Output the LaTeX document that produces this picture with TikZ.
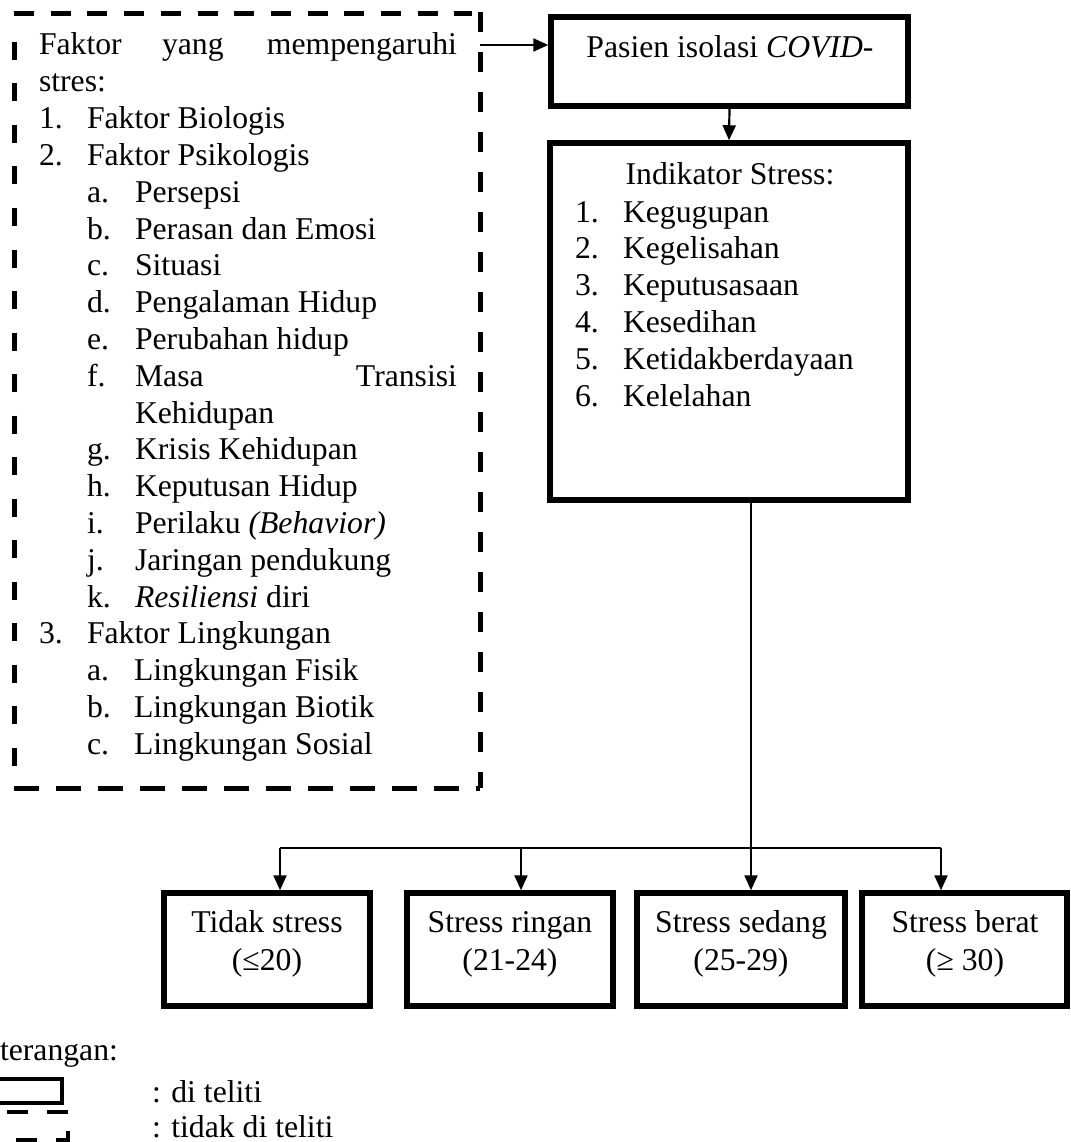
\documentclass[tikz,border=0pt]{standalone}
\usepackage{fontspec}
\setmainfont{Liberation Serif}
\usetikzlibrary{arrows.meta}
\newcommand{\mainsz}{\fontsize{31.7}{37}\selectfont}
\begin{document}
\begin{tikzpicture}[x=1pt,y=-1pt,
  txt/.style={anchor=base west,inner sep=0pt,outer sep=0pt,font=\mainsz},
  txtc/.style={anchor=base,inner sep=0pt,outer sep=0pt,font=\mainsz},
  txte/.style={anchor=base east,inner sep=0pt,outer sep=0pt,font=\mainsz},
  solidbox/.style={draw,line width=5.5pt,rectangle,inner sep=0pt},
  conn/.style={line width=2.2pt,-{Triangle[length=15pt,width=13pt]}},
  plainline/.style={line width=2.2pt},
  dashside/.style={line width=5pt}
]
\clip (0,0) rectangle (1070,1142);
\useasboundingbox (0,0) rectangle (1070,1142);

% ---------- dashed factor box ----------
\node[draw=none,inner sep=0pt,outer sep=0pt,anchor=north west,
      minimum width=466pt,minimum height=774pt] (faktor) at (14,14) {};
\draw[dashside,dash pattern=on 20pt off 16.7pt] (faktor.north west) -- ([xshift=-8pt]faktor.north east);
\draw[dashside,dash pattern=on 20pt off 20pt] ([yshift=2pt]faktor.north east) -- (faktor.south east);
\draw[dashside,dash pattern=on 25pt off 17pt] (faktor.south west) -- (faktor.south east);
\draw[dashside,dash pattern=on 18pt off 23.5pt] ([yshift=-28pt]faktor.north west) -- (faktor.south west);

\node[txt]  (f0a) at (39,55) {Faktor};
\node[txt]  (f0b) at (162,55) {yang};
\node[txte] (f0c) at (457,55) {mempengaruhi};
\node[txt]  (f1)  at (39,91.8) {stres:};
\node[txt]  (n1)  at (39,128.6) {1.};
\node[txt]  (t1)  at (87,128.6) {Faktor Biologis};
\node[txt]  (n2)  at (39,165.4) {2.};
\node[txt]  (t2)  at (87,165.4) {Faktor Psikologis};
\node[txt]  (la)  at (87,202.2) {a.};
\node[txt]  (ta)  at (135,202.2) {Persepsi};
\node[txt]  (lb)  at (87,239) {b.};
\node[txt]  (tb)  at (135,239) {Perasan dan Emosi};
\node[txt]  (lc)  at (87,275.8) {c.};
\node[txt]  (tc)  at (135,275.8) {Situasi};
\node[txt]  (ld)  at (87,312.6) {d.};
\node[txt]  (td)  at (135,312.6) {Pengalaman Hidup};
\node[txt]  (le)  at (87,349.4) {e.};
\node[txt]  (te)  at (135,349.4) {Perubahan hidup};
\node[txt]  (lf)  at (87,386.2) {f.};
\node[txt]  (tf)  at (135,386.2) {Masa};
\node[txte] (tf2) at (457,386.2) {Transisi};
\node[txt]  (tf3) at (135,423) {Kehidupan};
\node[txt]  (lg)  at (87,459.8) {g.};
\node[txt]  (tg)  at (135,459.8) {Krisis Kehidupan};
\node[txt]  (lh)  at (87,496.6) {h.};
\node[txt]  (th)  at (135,496.6) {Keputusan Hidup};
\node[txt]  (li)  at (87,533.4) {i.};
\node[txt]  (ti)  at (135,533.4) {Perilaku \textit{(Behavior)}};
\node[txt]  (lj)  at (87,570.2) {j.};
\node[txt]  (tj)  at (135,570.2) {Jaringan pendukung};
\node[txt]  (lk)  at (87,607) {k.};
\node[txt]  (tk)  at (135,607) {\textit{Resiliensi} diri};
\node[txt]  (n3)  at (39,643.8) {3.};
\node[txt]  (t3)  at (87,643.8) {Faktor Lingkungan};
\node[txt]  (l3a) at (87,680.6) {a.};
\node[txt]  (t3a) at (134,680.6) {Lingkungan Fisik};
\node[txt]  (l3b) at (87,717.4) {b.};
\node[txt]  (t3b) at (134,717.4) {Lingkungan Biotik};
\node[txt]  (l3c) at (87,754.2) {c.};
\node[txt]  (t3c) at (134,754.2) {Lingkungan Sosial};

% ---------- right boxes ----------
\node[solidbox,minimum width=357pt,minimum height=89pt] (pasien) at (729.5,61.5) {};
\node[txtc] (pasient) at (730,58) {Pasien isolasi \textit{COVID}-};

\node[solidbox,minimum width=358pt,minimum height=357pt] (indikator) at (729,321.5) {};
\node[txtc] (indh) at (730,185) {Indikator Stress:};
\node[txt] (in1) at (575,222) {1.};   \node[txt] (it1) at (623,222) {Kegugupan};
\node[txt] (in2) at (575,258.8) {2.}; \node[txt] (it2) at (623,258.8) {Kegelisahan};
\node[txt] (in3) at (575,295.6) {3.}; \node[txt] (it3) at (623,295.6) {Keputusasaan};
\node[txt] (in4) at (575,332.4) {4.}; \node[txt] (it4) at (623,332.4) {Kesedihan};
\node[txt] (in5) at (575,369.2) {5.}; \node[txt] (it5) at (623,369.2) {Ketidakberdayaan};
\node[txt] (in6) at (575,406) {6.};   \node[txt] (it6) at (623,406) {Kelelahan};

% ---------- bottom boxes ----------
\node[solidbox,minimum width=206pt,minimum height=113pt] (b1) at (267,949.5) {};
\node[solidbox,minimum width=206pt,minimum height=113pt] (b2) at (510,949.5) {};
\node[solidbox,minimum width=208pt,minimum height=113pt] (b3) at (741,949.5) {};
\node[solidbox,minimum width=205pt,minimum height=113pt] (b4) at (964.5,949.5) {};
\node[txtc] (b1a) at (267,932) {Tidak stress};
\node[txtc] (b1b) at (267,970) {(≤20)};
\node[txtc] (b2a) at (510,932) {Stress ringan};
\node[txtc] (b2b) at (510,970) {(21-24)};
\node[txtc] (b3a) at (741,932) {Stress sedang};
\node[txtc] (b3b) at (741,970) {(25-29)};
\node[txtc] (b4a) at (965,932) {Stress berat};
\node[txtc] (b4b) at (965,970) {(≥ 30)};

% ---------- connectors ----------
\coordinate (arrY) at (0,45);
\draw[conn] (faktor.east |- arrY) -- (pasien.west |- arrY);
\draw[conn] (pasien.south) -- (indikator.north);

\coordinate (busL) at (280,848);
\coordinate (j2)   at (521,848);
\coordinate (j3)   at (751,848);
\coordinate (busR) at (941,848);
\draw[plainline] (busL) -- (busR);
\draw[conn] (busL) -- (busL |- b1.north);
\draw[conn] (j2) -- (j2 |- b2.north);
\draw[conn] (indikator.south -| j3) -- (j3 |- b3.north);
\draw[conn] (busR) -- (busR |- b4.north);

% ---------- legend ----------
\node[txt] (ket) at (0,1060) {terangan:};
\node[draw,line width=4pt,inner sep=0pt,minimum width=80pt,minimum height=24pt] (legA) at (22,1091) {};
\draw[line width=4pt,dash pattern=on 21pt off 19pt] (7,1112) -- (68,1112) -- (68,1140) -- (-10,1140);
\node[txt] (legAt) at (152,1102) {: di teliti};
\node[txt] (legBt) at (152,1137) {: tidak di teliti};
\end{tikzpicture}
\end{document}
